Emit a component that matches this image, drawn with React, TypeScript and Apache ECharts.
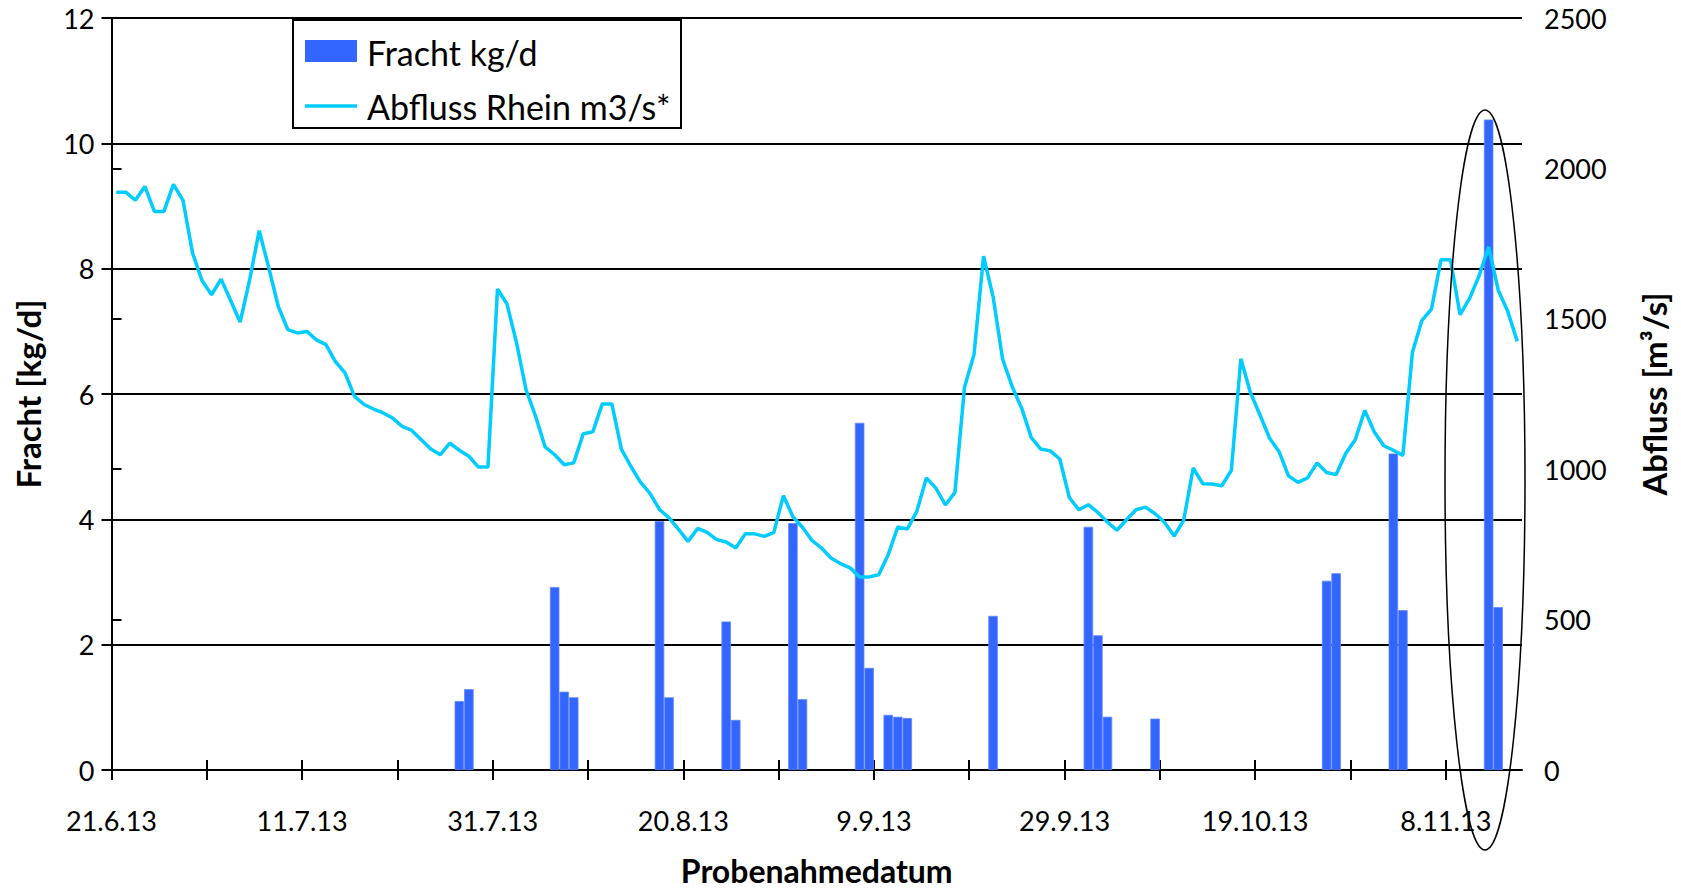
import React, { useEffect, useRef } from 'react';
import * as echarts from 'echarts';

// ---- data ----
const startDate = '21.6.13';
// Abfluss Rhein m3/s, one value per day starting 21.6.13
const flowRhein: number[] = [
  1921, 1921, 1894, 1940, 1857, 1857, 1947, 1894, 1719, 1627,
  1580, 1632, 1561, 1489, 1630, 1793, 1670, 1541, 1464, 1453,
  1458, 1430, 1414, 1358, 1320, 1242, 1215, 1200, 1187, 1170,
  1142, 1129, 1098, 1067, 1048, 1087, 1063, 1043, 1007, 1007,
  1599, 1549, 1420, 1264, 1176, 1074, 1048, 1015, 1021, 1118,
  1124, 1217, 1217, 1067, 1009, 957, 920, 866, 838, 800,
  760, 803, 790, 766, 758, 738, 785, 785, 777, 790,
  912, 842, 807, 763, 738, 705, 686, 672, 642, 642,
  649, 716, 808, 801, 860, 971, 937, 881, 923, 1272,
  1381, 1708, 1574, 1366, 1275, 1203, 1106, 1067, 1061, 1034,
  906, 865, 882, 856, 824, 797, 832, 865, 874, 852,
  823, 778, 830, 1004, 952, 951, 945, 996, 1367, 1255,
  1181, 1104, 1059, 978, 956, 971, 1021, 989, 982, 1052,
  1098, 1195, 1124, 1078, 1063, 1046, 1388, 1495, 1532, 1696,
  1696, 1514, 1568, 1643, 1739, 1596, 1525, 1425,
];
// Fracht kg/d per sampling date
const loadDates: string[] = [
  '27.7.13', '28.7.13', '6.8.13', '7.8.13', '8.8.13', '17.8.13', '18.8.13',
  '24.8.13', '25.8.13', '31.8.13', '1.9.13', '7.9.13', '8.9.13', '10.9.13',
  '11.9.13', '12.9.13', '21.9.13', '1.10.13', '2.10.13', '3.10.13', '8.10.13',
  '26.10.13', '27.10.13', '2.11.13', '3.11.13', '12.11.13', '13.11.13',
];
const loadValues: number[] = [
  1.10, 1.29, 2.92, 1.25, 1.16, 3.97, 1.16,
  2.37, 0.80, 3.94, 1.13, 5.54, 1.63, 0.88,
  0.85, 0.83, 2.46, 3.88, 2.15, 0.85, 0.82,
  3.02, 3.14, 5.05, 2.55, 10.38, 2.60,
];
const xTickDays: number[] = [0, 10, 20, 30, 40, 50, 60, 70, 80, 90, 100, 110, 120, 130, 140];
const xLabelDays: number[] = [0, 20, 40, 60, 80, 100, 120, 140];

// ---- helpers ----
const DAY = 86400000;
function parseDate(s: string): number {
  const [d, m, y] = s.split('.').map(Number);
  return Date.UTC(2000 + y, m - 1, d);
}
const START = parseDate(startDate);
function dayOf(s: string): number {
  return Math.round((parseDate(s) - START) / DAY);
}
function labelOf(day: number): string {
  const dt = new Date(START + day * DAY);
  return `${dt.getUTCDate()}.${dt.getUTCMonth() + 1}.${String(dt.getUTCFullYear()).slice(2)}`;
}

const FONT = 'Lato';

export default function App() {
  const ref = useRef<HTMLDivElement>(null);
  useEffect(() => {
    document.body.style.margin = '0';
    if (!ref.current) return;
    const chart = echarts.init(ref.current, undefined, { renderer: 'svg' });
    const barData = loadDates.map((s, i) => [dayOf(s) + 0.5, loadValues[i]]);
    const lineData = flowRhein.map((q, i) => [i + 0.5, q]);
    const black = '#000';
    const titleStyle = { fontFamily: FONT, fontWeight: 'bold', fontSize: 33, color: black };
    chart.setOption({
      animation: false,
      textStyle: { fontFamily: FONT, color: black },
      grid: { left: 111.5, right: 159, top: 18, bottom: 119, containLabel: false, outerBoundsMode: 'none' },
      xAxis: [
        {
          type: 'value', min: 0, max: 148, position: 'bottom',
          axisLine: { show: true, onZero: false, lineStyle: { color: black, width: 2 } },
          axisTick: { show: true, length: 10, customValues: xTickDays, lineStyle: { color: black, width: 2 } },
          axisLabel: {
            customValues: xLabelDays, formatter: (v: number) => labelOf(v),
            fontSize: 27, color: black, fontFamily: FONT, margin: 37,
          },
          splitLine: { show: false },
          name: 'Probenahmedatum', nameLocation: 'middle', nameGap: 84,
          nameTextStyle: { ...titleStyle, fontSize: 32 },
        },
        {
          type: 'value', min: 0, max: 148, position: 'bottom',
          axisLine: { show: false, onZero: false },
          axisTick: { show: true, inside: true, length: 10, customValues: xTickDays, lineStyle: { color: black, width: 2 } },
          axisLabel: { show: false },
          splitLine: { show: false },
        },
      ],
      yAxis: [
        {
          type: 'value', min: 0, max: 12, interval: 2, position: 'left',
          axisLine: { show: true, lineStyle: { color: black, width: 2 } },
          axisTick: { show: true, length: 10, lineStyle: { color: black, width: 2 } },
          axisLabel: { fontSize: 27, color: black, fontFamily: FONT, margin: 17 },
          splitLine: { show: true, lineStyle: { color: black, width: 2 } },
          name: 'Fracht [kg/d]', nameLocation: 'middle', nameRotate: 90, nameGap: 67,
          nameTextStyle: titleStyle,
        },
        {
          type: 'value', min: 0, max: 2500, interval: 500, position: 'right',
          axisLine: { show: true, lineStyle: { color: black, width: 2 } },
          axisTick: { show: true, length: 10, lineStyle: { color: black, width: 2 } },
          axisLabel: { fontSize: 27, color: black, fontFamily: FONT, margin: 22, formatter: (v: number) => String(v) },
          splitLine: { show: false },
          name: 'Abfluss [m³/s]', nameLocation: 'middle', nameRotate: 90, nameGap: 115,
          nameTextStyle: titleStyle,
        },
      ],
      series: [
        {
          name: 'Fracht kg/d', type: 'bar', xAxisIndex: 0, yAxisIndex: 0,
          data: barData, barWidth: 9.5,
          itemStyle: { color: '#3366FF', borderColor: '#6088FF', borderWidth: 0.8 },
          z: 2,
        },
        {
          name: 'Abfluss Rhein m3/s*', type: 'line', xAxisIndex: 0, yAxisIndex: 1,
          data: lineData, showSymbol: false, symbol: 'none',
          lineStyle: { color: '#00CCFF', width: 3.5 },
          z: 3,
        },
      ],
      graphic: [
        {
          type: 'rect', shape: { x: 293, y: 20, width: 388, height: 108 },
          style: { fill: '#fff', stroke: black, lineWidth: 2 }, z: 10,
        },
        {
          type: 'rect', shape: { x: 305, y: 40, width: 52, height: 22 },
          style: { fill: '#3366FF' }, z: 11,
        },
        {
          type: 'line', shape: { x1: 305, y1: 106, x2: 357, y2: 106 },
          style: { stroke: '#00CCFF', lineWidth: 3.5 }, z: 11,
        },
        {
          type: 'text', x: 367, y: 52, z: 11,
          style: { text: 'Fracht kg/d', fontFamily: FONT, fontSize: 34, fill: black, verticalAlign: 'middle' },
        },
        {
          type: 'text', x: 367, y: 106, z: 11,
          style: { text: 'Abfluss Rhein m3/s*', fontFamily: FONT, fontSize: 34, fill: black, verticalAlign: 'middle' },
        },
        {
          type: 'ellipse', shape: { cx: 1485, cy: 480, rx: 40, ry: 370 },
          style: { fill: 'none', stroke: black, lineWidth: 1.5 }, z: 12,
        },
      ],
    });
    return () => chart.dispose();
  }, []);
  return <div ref={ref} style={{ width: 1681, height: 889 }} />;
}
